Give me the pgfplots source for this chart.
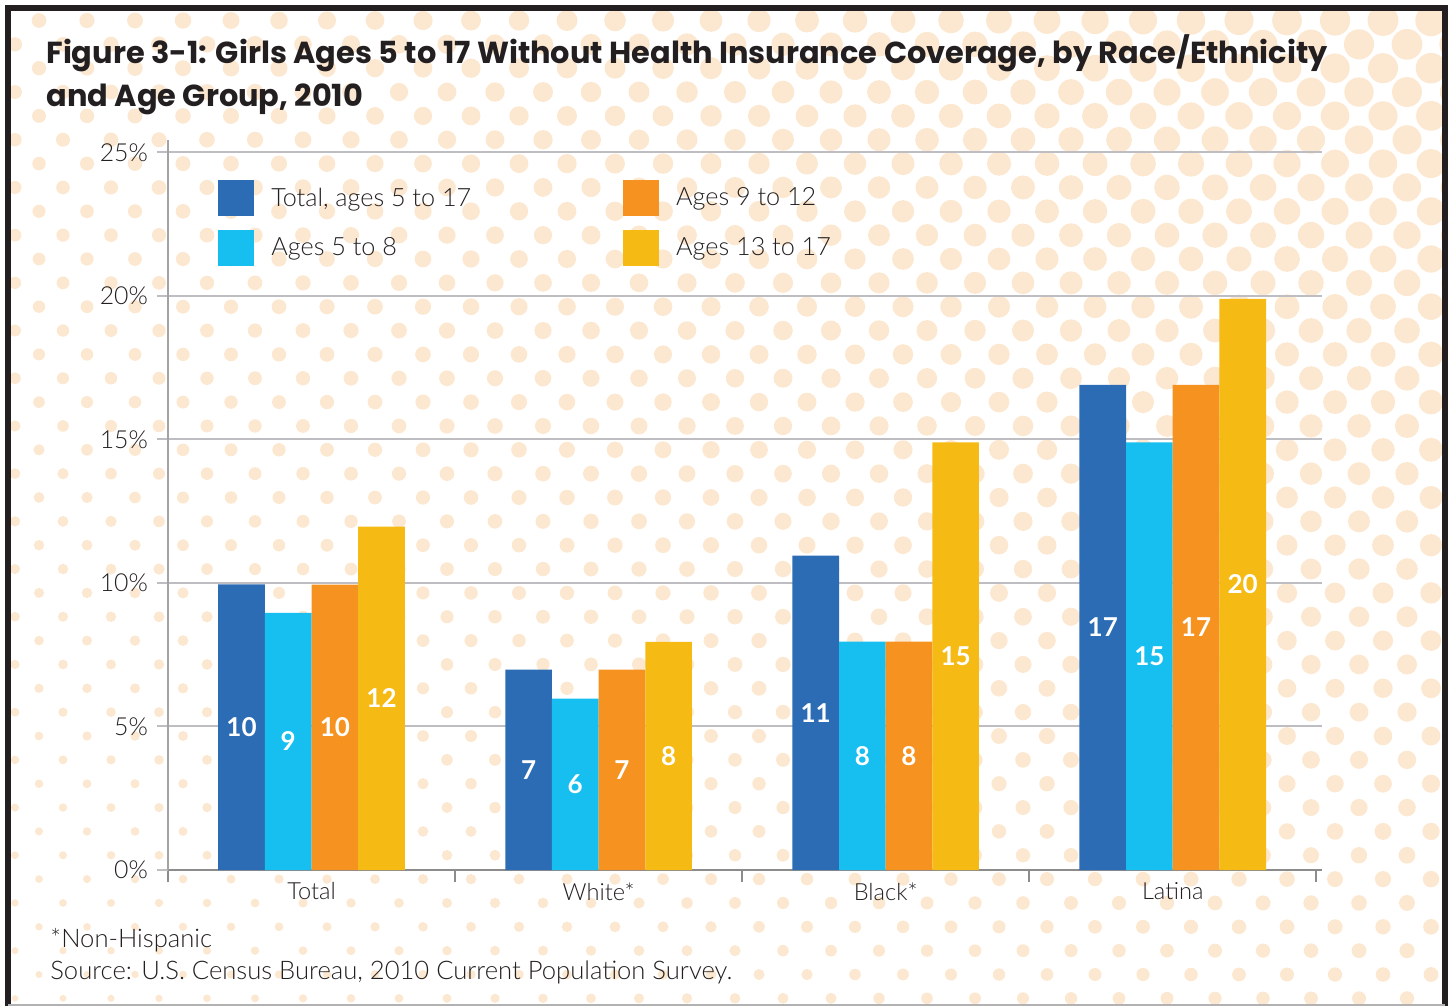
\documentclass[border=0pt]{standalone}
\usepackage{pgfplots}
\pgfplotsset{compat=1.18}
\usepackage{fontspec}
\setmainfont{Lato}[UprightFont=* Light, BoldFont=* Bold]
\newfontfamily\titlef{Poppins}

\definecolor{cTot}{RGB}{43,108,180}
\definecolor{cA}{RGB}{23,191,240}
\definecolor{cB}{RGB}{246,146,31}
\definecolor{cC}{RGB}{245,187,20}
\definecolor{dotc}{RGB}{252,232,208}
\definecolor{gridc}{RGB}{190,190,194}
\definecolor{axc}{RGB}{140,140,140}
\definecolor{txt}{RGB}{35,31,32}

\begin{document}
\begin{tikzpicture}
\useasboundingbox (0,0) rectangle (725pt,-503pt);

% halftone dots in the background
\begin{scope}
\clip (5.5pt,-5.5pt) rectangle (721pt,-502pt);
\foreach \j in {0,...,41} {
  \foreach \k in {0,...,30} {
    \pgfmathsetmacro\xx{15+24*mod(\j+1,2)+48*\k}
    \pgfmathsetmacro\yy{20.5+23.85*\j}
    \pgfmathsetmacro\rr{8*(1-0.55*(1450-\xx)/1450)*(1-0.55*\yy/1006)}
    \fill[dotc] (\xx*0.5pt,-\yy*0.5pt) circle (\rr pt);
  }
}
\end{scope}

% frame
\draw[txt, line width=3pt] (4pt,-503pt) -- (4pt,-4pt) -- (722.5pt,-4pt) -- (722.5pt,-503pt);
\draw[gray!60, line width=1pt] (4pt,-502.3pt) -- (722.5pt,-502.3pt);

% title
\node[anchor=base west, inner sep=0pt, text=txt, font=\titlef\fontsize{15.2}{18}\selectfont\bfseries]
  at (23pt,-32pt) {Figure 3-1: Girls Ages 5 to 17 Without Health Insurance Coverage, by Race/Ethnicity};
\node[anchor=base west, inner sep=0pt, text=txt, font=\titlef\fontsize{15.2}{18}\selectfont\bfseries]
  at (23pt,-53.5pt) {and Age Group, 2010};

\begin{axis}[
  at={(84pt,-435pt)}, anchor=south west,
  scale only axis, width=577pt, height=365.25pt,
  xmin=-0.5, xmax=3.52, ymin=0, ymax=25.45,
  axis x line*=bottom, axis y line*=left,
  x axis line style={axc, line width=1.3pt},
  y axis line style={axc!80, line width=1pt},
  ybar=0pt, bar width=0.1625,
  ytick={0,5,10,15,20,25},
  yticklabel={\pgfmathprintnumber{\tick}\%},
  /pgf/number format/assume math mode=true,
  ymajorgrids, grid style={gridc, line width=1pt},
  xtick={0,1,2,3}, xticklabels={Total,White*,Black*,Latina},
  minor xtick={-0.5,0.5,1.5,2.5,3.5},
  tick align=outside,
  major tick length=5.5pt, minor tick length=6pt,
  major x tick style={draw=none},
  minor x tick style={axc, line width=1pt},
  y tick style={gridc, line width=1pt},
  tick label style={text=txt},
  yticklabel style={font=\fontsize{12.4}{14}\selectfont, xshift=-1pt},
  xticklabel style={font=\fontsize{11.8}{14}\selectfont, yshift=2.8pt},
  nodes near coords={\pgfmathprintnumber[fixed,precision=0]{\pgfplotspointmeta}},
  nodes near coords align={center},
  point meta=y,
  visualization depends on=rawy \as \rawy,
  every node near coord/.append style={font=\fontsize{13}{14}\selectfont\bfseries,
    text=white, anchor=center, shift={(axis direction cs:0,-\rawy/2)}},
  legend columns=2, transpose legend,
  legend cell align=left,
  legend style={at={(0.0433,0.9446)}, anchor=north west, draw=none, fill=none,
    inner sep=0pt, row sep=7pt, text=txt, font=\fontsize{12.6}{15}\selectfont,
    nodes={inner sep=0pt},
    /tikz/every odd column/.append style={column sep=8.5pt},
    /tikz/every even column/.append style={column sep=76pt}},
  every axis plot post/.append style={
    legend image code/.code={\fill[##1] (0pt,-9pt) rectangle (18pt,9pt);}},
]
\addplot[fill=cTot, draw=none, bar shift=-0.24375] coordinates {(0,9.95) (1,6.98) (2,10.95) (3,16.9)};
\addlegendentry{Total, ages 5 to 17}
\addplot[fill=cA, draw=none, bar shift=-0.08125] coordinates {(0,8.96) (1,5.97) (2,7.96) (3,14.9)};
\addlegendentry{Ages 5 to 8}
\addplot[fill=cB, draw=none, bar shift=0.08125] coordinates {(0,9.94) (1,6.98) (2,7.96) (3,16.9)};
\addlegendentry{Ages 9 to 12}
\addplot[fill=cC, draw=none, bar shift=0.24375] coordinates {(0,11.96) (1,7.95) (2,14.9) (3,19.9)};
\addlegendentry{Ages 13 to 17}
\end{axis}

% notes
\node[anchor=base west, inner sep=0pt, text=txt, font=\fontsize{12.8}{14}\selectfont]
  at (25pt,-473.5pt) {*Non-Hispanic};
\node[anchor=base west, inner sep=0pt, text=txt, font=\fontsize{12.8}{14}\selectfont]
  at (25pt,-489.5pt) {Source: U.S. Census Bureau, 2010 Current Population Survey.};
\end{tikzpicture}
\end{document}
